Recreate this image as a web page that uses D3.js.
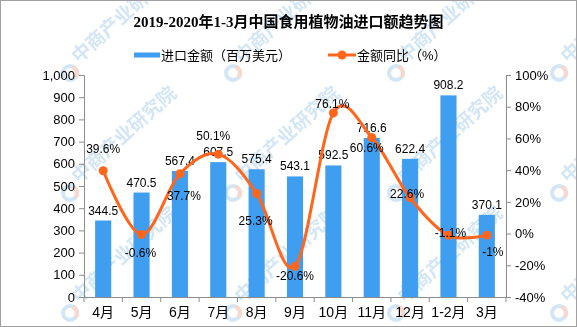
<!DOCTYPE html>
<html>
<head>
<meta charset="utf-8">
<script src="https://cdn.jsdelivr.net/npm/d3@7"></script>
<style>
  body { margin: 0; background: #fff; }
  text { font-family: "Liberation Sans", "Noto Sans CJK SC", sans-serif; }
</style>
</head>
<body>
<div id="chart"></div>
<script>
// data
var months = ["4月", "5月", "6月", "7月", "8月", "9月", "10月", "11月", "12月", "1-2月", "3月"];
var imports = [344.5, 470.5, 567.4, 607.5, 575.4, 543.1, 592.5, 716.6, 622.4, 908.2, 370.1];
var growth = [39.6, -0.6, 37.7, 50.1, 25.3, -20.6, 76.1, 60.6, 22.6, -1.1, -1];
var growthText = ["39.6%", "-0.6%", "37.7%", "50.1%", "25.3%", "-20.6%", "76.1%", "60.6%", "22.6%", "-1.1%", "-1%"];
var leftTicks = [0, 100, 200, 300, 400, 500, 600, 700, 800, 900, 1000];
var rightTicks = [-40, -20, 0, 20, 40, 60, 80, 100];

// label nudges for the % labels (px, relative to the point)
var pctDy = [-22, 18, 22, -18, 27, 10, -9, 10, -4, -3, 17];
var pctDx = [0, -1, 4, -5, -1, 0, -1, -5, -3, 2, 6];

var W = 577, H = 327;
var margin = {top: 75, right: 71, bottom: 30, left: 84},
    width = W - margin.left - margin.right,
    height = H - margin.top - margin.bottom;

var barColor = "#3F9EF0", lineColor = "#FF661C";

var svg = d3.select("#chart").append("svg")
    .attr("width", W)
    .attr("height", H);

// watermark (logo + diagonal text), repeated on a grid
var wm = svg.append("g").attr("opacity", 0.45);
[70, 233, 396, 559].forEach(function(wx) {
    [73, 193, 313].forEach(function(wy) {
        var m = wm.append("g").attr("transform", "translate(" + wx + "," + wy + ")");
        m.append("circle").attr("r", 7).attr("fill", "none")
            .attr("stroke", "#9cc7ea").attr("stroke-width", 4);
        m.append("path")
            .attr("d", d3.arc().innerRadius(5).outerRadius(9).startAngle(0.4).endAngle(2.2))
            .attr("fill", "#f4a58f");
        m.append("text")
            .attr("transform", "translate(9,-9) rotate(-42)")
            .attr("fill", "#9cc7ea")
            .style("font-size", "19px")
            .style("font-weight", "bold")
            .text("中商产业研究院");
    });
});

svg.append("rect")
    .attr("x", 0.5).attr("y", 0.5)
    .attr("width", W - 1).attr("height", H - 1)
    .attr("fill", "none")
    .attr("stroke", "#a0a0a0");

var g = svg.append("g")
    .attr("transform", "translate(" + margin.left + "," + margin.top + ")");

var x = d3.scaleBand().domain(months).range([0, width]).paddingInner(0.58).paddingOuter(0.29);
var y = d3.scaleLinear().domain([0, 1000]).range([height, 0]);
var y2 = d3.scaleLinear().domain([-40, 100]).range([height, 0]);

// bars
g.selectAll(".bar")
    .data(imports)
    .enter().append("rect")
    .attr("class", "bar")
    .attr("x", function(d, i) { return x(months[i]); })
    .attr("y", function(d) { return y(d); })
    .attr("width", x.bandwidth())
    .attr("height", function(d) { return height - y(d); })
    .attr("fill", barColor);

g.selectAll(".barlabel")
    .data(imports)
    .enter().append("text")
    .attr("class", "barlabel")
    .attr("x", function(d, i) { return x(months[i]) + x.bandwidth() / 2; })
    .attr("y", function(d) { return y(d) - 6; })
    .attr("text-anchor", "middle")
    .style("font-size", "12px")
    .style("fill", "#000")
    .text(function(d) { return d.toFixed(1); });

// axes
var axisColor = "#8c8c8c";

var yAxis = d3.axisLeft(y).tickValues(leftTicks).tickSize(5).tickPadding(4).tickFormat(d3.format(","));
var gy = g.append("g").call(yAxis);

var y2Axis = d3.axisRight(y2).tickValues(rightTicks).tickSize(5).tickPadding(4).tickFormat(function(d) { return d + "%"; });
var gy2 = g.append("g").attr("transform", "translate(" + width + ",0)").call(y2Axis);

var xAxis = d3.axisBottom(x).tickSize(0).tickPadding(10);
var gx = g.append("g").attr("transform", "translate(0," + height + ")").call(xAxis);

// boundary ticks between categories
var bounds = months.map(function(m) { return x(m) + x.bandwidth() / 2 - x.step() / 2; });
bounds.push(width);
gx.selectAll(".btick")
    .data(bounds)
    .enter().append("line")
    .attr("class", "btick")
    .attr("x1", function(d) { return d; })
    .attr("x2", function(d) { return d; })
    .attr("y1", 0).attr("y2", 5)
    .attr("stroke", axisColor);

[gy, gy2, gx].forEach(function(a) {
    a.select(".domain").attr("stroke", axisColor);
    a.selectAll(".tick line").attr("stroke", axisColor);
    a.selectAll("text").style("font-size", "13px").style("fill", "#000")
        .style("font-family", "'Liberation Sans', 'Noto Sans CJK SC', sans-serif");
});
gx.selectAll("text").style("font-size", "14px");

// growth line
var pts = growth.map(function(d, i) { return [x(months[i]) + x.bandwidth() / 2, y2(d)]; });

g.append("path")
    .datum(pts)
    .attr("fill", "none")
    .attr("stroke", lineColor)
    .attr("stroke-width", 3)
    .attr("d", d3.line().curve(d3.curveCatmullRom.alpha(0)));

g.selectAll(".dot")
    .data(pts)
    .enter().append("circle")
    .attr("class", "dot")
    .attr("cx", function(d) { return d[0]; })
    .attr("cy", function(d) { return d[1]; })
    .attr("r", 4.5)
    .attr("fill", lineColor);

g.selectAll(".pctlabel")
    .data(pts)
    .enter().append("text")
    .attr("class", "pctlabel")
    .attr("x", function(d, i) { return d[0] + pctDx[i]; })
    .attr("y", function(d, i) { return d[1] + pctDy[i]; })
    .attr("dy", "0.35em")
    .attr("text-anchor", "middle")
    .style("font-size", "12px")
    .style("fill", "#000")
    .text(function(d, i) { return growthText[i]; });

// title
svg.append("text")
    .attr("x", W / 2)
    .attr("y", 27)
    .attr("text-anchor", "middle")
    .style("font-size", "15px")
    .style("font-weight", "bold")
    .style("font-family", "'Liberation Serif', 'Noto Sans CJK SC', serif")
    .text("2019-2020年1-3月中国食用植物油进口额趋势图");

// legend
var lg = svg.append("g");
lg.append("rect")
    .attr("x", 134).attr("y", 52.5)
    .attr("width", 26).attr("height", 5)
    .attr("fill", barColor);
lg.append("text")
    .attr("x", 161).attr("y", 55)
    .attr("dy", "0.35em")
    .style("font-size", "13px")
    .text("进口金额（百万美元）");
lg.append("line")
    .attr("x1", 328).attr("x2", 356)
    .attr("y1", 55).attr("y2", 55)
    .attr("stroke", lineColor)
    .attr("stroke-width", 3);
lg.append("circle")
    .attr("cx", 342).attr("cy", 55).attr("r", 4.5)
    .attr("fill", lineColor);
lg.append("text")
    .attr("x", 357).attr("y", 55)
    .attr("dy", "0.35em")
    .style("font-size", "13px")
    .text("金额同比（%）");
</script>
</body>
</html>
